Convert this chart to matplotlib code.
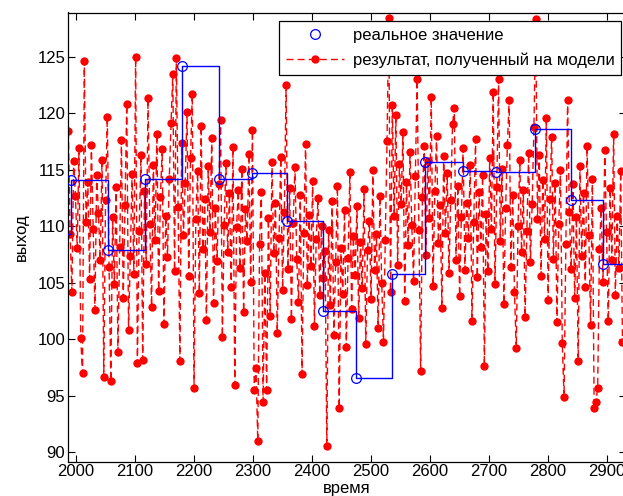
# coding=utf-8
"""Model output against the real (sampled) value, MATLAB-style figure."""

# Third party imports:
import numpy as np
import matplotlib.pyplot as plt

plt.rcParams["font.family"] = ["Liberation Sans", "DejaVu Sans"]

# Real value: sample times and held values (first sample sits left of the view).
t_real = [1929, 1991, 2054, 2117, 2180, 2243, 2299, 2358, 2418, 2474,
          2535, 2592, 2655, 2711, 2777, 2838, 2893]
y_real = [109.3, 114.1, 107.9, 114.2, 124.2, 114.2, 114.7, 110.5, 102.5, 96.6,
          105.8, 115.7, 114.9, 114.8, 118.6, 112.3, 106.7]

# Model output, one value every 3 time units starting at 1987.
t_start, t_step = 1987, 3
y_model = [
    118.4, 109.3, 104.2, 115.8, 112.7, 108.1, 116.9, 100.1, 97.0, 124.6,
    110.4, 113.9, 105.3, 117.2, 109.8, 102.6, 114.5, 111.2, 107.0, 115.9,
    96.7, 112.3, 119.7, 106.4, 96.3, 110.8, 104.9, 113.5, 98.9, 108.2,
    117.6, 103.7, 111.9, 120.8, 100.8, 107.4, 114.6, 105.8, 125.0, 97.9,
    109.6, 116.3, 98.2, 113.1, 106.7, 121.3, 110.2, 102.9, 115.4, 108.8,
    118.2, 104.3, 112.6, 116.8, 101.4, 110.9, 107.3, 114.2, 119.1, 123.5,
    106.0, 124.9, 111.7, 98.1, 117.4, 109.2, 113.8, 120.1, 105.6, 116.0,
    121.7, 95.7, 110.6, 114.9, 104.1, 118.9, 108.0, 112.4, 101.7, 115.3,
    109.5, 117.8, 103.2, 111.6, 106.9, 113.7, 119.4, 100.2, 110.1, 115.6,
    107.7, 112.9, 104.6, 117.0, 96.0, 109.9, 113.2, 106.3, 115.1, 102.4,
    111.5, 108.7, 116.4, 105.1, 118.5, 95.5, 97.5, 91.0, 108.4, 113.0,
    94.5, 105.9, 95.5, 110.7, 102.1, 115.7, 107.6, 112.1, 100.6, 109.0,
    116.1, 104.4, 111.3, 122.5, 106.2, 113.4, 101.8, 110.3, 115.2, 107.1,
    103.3, 112.8, 96.9, 109.4, 117.3, 104.8, 111.0, 106.5, 114.0, 101.2,
    108.9, 112.5, 103.9, 110.0, 105.4, 107.8, 90.6, 109.7, 103.0, 112.2,
    100.4, 106.8, 113.6, 93.9, 108.1, 104.0, 111.4, 99.3, 107.2, 114.8,
    102.7, 109.1, 105.7, 111.8, 101.9, 108.6, 104.5, 113.3, 99.6, 107.9,
    110.5, 103.6, 115.0, 106.1, 109.3, 101.0, 112.7, 105.0, 99.8, 108.8,
    117.5, 128.4, 104.2, 120.7, 110.9, 119.8, 106.6, 115.5, 112.0, 118.3,
    103.4, 113.9, 108.3, 116.6, 110.1, 105.2, 114.4, 123.0, 109.7, 97.2,
    112.6, 117.1, 107.5, 115.8, 110.7, 121.4, 104.7, 113.1, 118.0, 108.5,
    111.9, 102.8, 116.2, 109.4, 114.7, 105.9, 112.3, 119.0, 120.5, 107.0,
    113.6, 103.8, 110.8, 116.9, 106.1, 112.1, 109.0, 115.4, 101.6, 110.4,
    117.7, 105.5, 113.0, 108.2, 114.5, 97.6, 111.1, 106.0, 116.0, 109.8,
    121.9, 104.9, 113.5, 123.0, 108.7, 115.1, 103.1, 111.6, 117.2, 121.2,
    106.4, 112.8, 104.2, 99.2, 110.0, 115.9, 107.7, 113.2, 102.0, 109.6,
    116.5, 106.8, 112.0, 118.8, 128.3, 110.6, 116.3, 105.6, 114.1, 108.9,
    119.6, 103.5, 112.4, 117.9, 107.1, 113.8, 101.5, 110.2, 115.0, 99.7,
    94.9, 108.4, 121.2, 111.3, 106.2, 113.7, 103.7, 110.8, 98.1, 115.3,
    107.4, 112.9, 104.6, 117.1, 109.2, 101.3, 114.2, 93.9, 94.5, 95.7,
    108.0, 111.6, 105.1, 116.7, 109.5, 101.6, 113.4, 107.0, 118.2, 103.9,
    110.9, 106.3, 114.9, 99.8,
]

x_lim = (1986.4, 2932)
y_lim = (89.2, 128.9)

t_model = t_start + t_step * np.arange(len(y_model))

# Axes run a little past the right border, as in the cropped original.
fig = plt.figure(figsize=(6.23, 4.96), dpi=100)
ax = fig.add_axes([68 / 623, 34.5 / 496, 558 / 623, 449 / 496])

ax.plot(t_model, y_model, color="red", linestyle="--", linewidth=1.0,
        dashes=(5, 3), marker="o", markersize=6, markeredgewidth=0,
        label="результат, полученный на модели", zorder=2)
# Held real value drawn as a staircase up to the right edge:
t_steps = np.append(t_real, x_lim[1] + 50)
y_steps = np.append(y_real, y_real[-1])
ax.plot(t_steps, y_steps, drawstyle="steps-post", color="blue",
        linewidth=1.0, zorder=3)
ax.plot(t_real, y_real, linestyle="none", marker="o", markersize=7,
        markerfacecolor="none", markeredgecolor="blue", markeredgewidth=0.9,
        label="реальное значение", zorder=4)

ax.set_xlim(*x_lim)
ax.set_ylim(*y_lim)
ax.set_xticks(range(2000, 2901, 100))
ax.set_yticks(range(90, 126, 5))
ax.tick_params(direction="in", top=True, right=True, length=5,
               labelsize=12, pad=2)
for spine in ax.spines.values():
    spine.set_linewidth(0.9)
ax.set_xlabel("время", fontsize=12, labelpad=1)
ax.set_ylabel("выход", fontsize=12, labelpad=6)

handles, labels = ax.get_legend_handles_labels()
legend = ax.legend(handles[::-1], labels[::-1], loc="upper right",
                   bbox_to_anchor=(553 / 558, 1 - 8.5 / 449),
                   fontsize=12, fancybox=False, framealpha=1,
                   edgecolor="black", borderaxespad=0, handlelength=3.5,
                   borderpad=0.4, labelspacing=0.6, handletextpad=0.5)
legend.get_frame().set_linewidth(0.9)

fig.savefig("out.png", dpi=100)
